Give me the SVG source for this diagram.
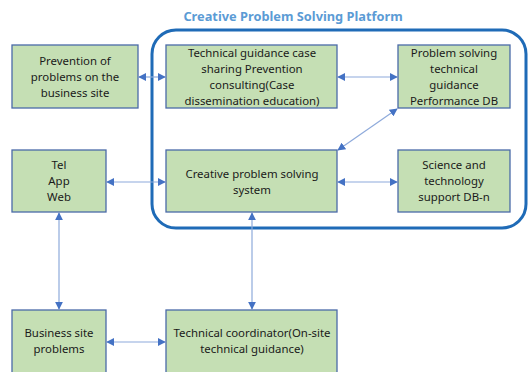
<svg xmlns="http://www.w3.org/2000/svg" width="530" height="372" viewBox="0 0 530 372">
  <defs>
    <style>
      .box { fill: #c5dfb4; stroke: #4a6aa8; stroke-width: 1.3; }
      .lbl { font-family: "Noto Sans", "Noto Sans CJK KR", sans-serif; font-size: 11.4px; fill: #1a1a1a; text-anchor: middle; }
      .title { font-family: "Noto Sans", "Noto Sans CJK KR", sans-serif; font-size: 12.8px; font-weight: bold; fill: #5b9bd5; text-anchor: middle; }
      .conn { fill: none; stroke: #8eaadb; stroke-width: 1.2; marker-start: url(#head); marker-end: url(#head); }
    </style>
    <marker id="head" viewBox="0 0 10 10" refX="9" refY="5" markerWidth="8" markerHeight="8" markerUnits="userSpaceOnUse" orient="auto-start-reverse">
      <path d="M0,0 L10,5 L0,10 z" fill="#4472c4"/>
    </marker>
  </defs>

  <rect width="530" height="372" fill="#ffffff"/>

  <!-- platform frame -->
  <g id="platform">
    <text class="title" x="293" y="21">Creative Problem Solving Platform</text>
    <rect x="152" y="30" width="374" height="198" rx="24" ry="24" fill="none" stroke="#1f6bb7" stroke-width="3"/>
  </g>

  <!-- connectors -->
  <g id="connectors">
    <line class="conn" x1="139" y1="77" x2="165" y2="77"/>
    <line class="conn" x1="338" y1="77" x2="397" y2="77"/>
    <line class="conn" x1="338" y1="150" x2="397" y2="109"/>
    <line class="conn" x1="107" y1="182" x2="165" y2="182"/>
    <line class="conn" x1="338" y1="182" x2="397" y2="182"/>
    <line class="conn" x1="59" y1="213" x2="59" y2="309"/>
    <line class="conn" x1="252" y1="213" x2="252" y2="309"/>
    <line class="conn" x1="107" y1="342" x2="165" y2="342"/>
  </g>

  <g id="prevention">
    <rect class="box" x="12" y="45" width="126" height="63"/>
    <text class="lbl" x="75" y="65">Prevention of</text>
    <text class="lbl" x="75" y="81">problems on the</text>
    <text class="lbl" x="75" y="97">business site</text>
  </g>

  <g id="case-sharing">
    <rect class="box" x="166" y="45" width="171" height="63"/>
    <text class="lbl" x="252" y="57">Technical guidance case</text>
    <text class="lbl" x="252" y="73">sharing Prevention</text>
    <text class="lbl" x="252" y="89">consulting(Case</text>
    <text class="lbl" x="252" y="105">dissemination education)</text>
  </g>

  <g id="performance-db">
    <rect class="box" x="398" y="45" width="112" height="63"/>
    <text class="lbl" x="454" y="57">Problem solving</text>
    <text class="lbl" x="454" y="73">technical</text>
    <text class="lbl" x="454" y="89">guidance</text>
    <text class="lbl" x="454" y="105">Performance DB</text>
  </g>

  <g id="channels">
    <rect class="box" x="12" y="150" width="94" height="62"/>
    <text class="lbl" x="59" y="169">Tel</text>
    <text class="lbl" x="59" y="185">App</text>
    <text class="lbl" x="59" y="201">Web</text>
  </g>

  <g id="cps-system">
    <rect class="box" x="166" y="150" width="171" height="62"/>
    <text class="lbl" x="252" y="178">Creative problem solving</text>
    <text class="lbl" x="252" y="194">system</text>
  </g>

  <g id="support-db">
    <rect class="box" x="398" y="150" width="112" height="62"/>
    <text class="lbl" x="454" y="169">Science and</text>
    <text class="lbl" x="454" y="185">technology</text>
    <text class="lbl" x="454" y="201">support DB-n</text>
  </g>

  <g id="site-problems">
    <rect class="box" x="12" y="310" width="94" height="70"/>
    <text class="lbl" x="59" y="337">Business site</text>
    <text class="lbl" x="59" y="353">problems</text>
  </g>

  <g id="coordinator">
    <rect class="box" x="166" y="310" width="171" height="70"/>
    <text class="lbl" x="252" y="337">Technical coordinator(On-site</text>
    <text class="lbl" x="252" y="353">technical guidance)</text>
  </g>
</svg>
